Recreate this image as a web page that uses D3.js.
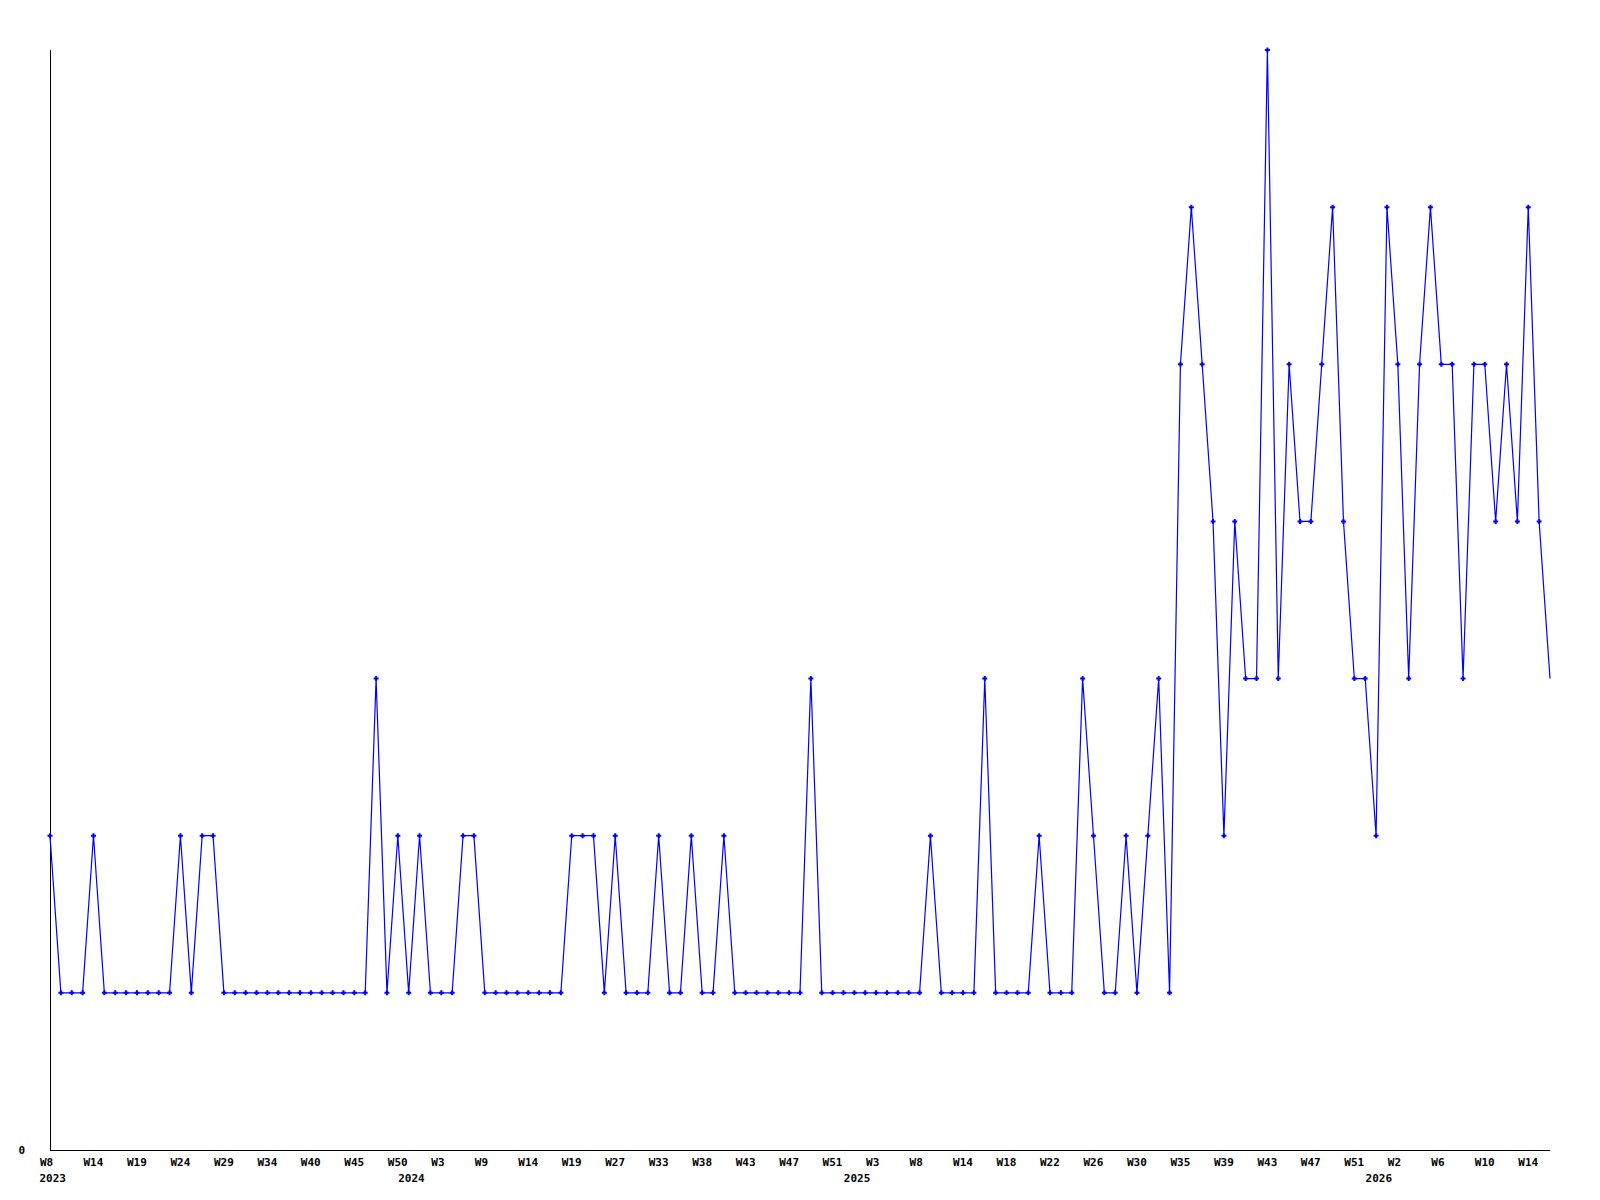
<!DOCTYPE html>
<html>
<head>
<meta charset="utf-8">
<script src="https://cdn.jsdelivr.net/npm/d3@7"></script>
<style>
  html, body { margin: 0; padding: 0; background: #ffffff; }
  svg { display: block; }
  text { font-family: "DejaVu Sans Mono", "Liberation Mono", monospace; font-weight: bold; font-size: 11px; fill: #000; }
</style>
</head>
<body>
<svg id="chart" width="1600" height="1200"></svg>
<script>
// ---- data (one value per plotted week, in order) ----
const values = [
  2,1,1,1,2,1,1,1,1,1,
  1,1,2,1,2,2,1,1,1,1,
  1,1,1,1,1,1,1,1,1,1,
  3,1,2,1,2,1,1,1,2,2,
  1,1,1,1,1,1,1,1,2,2,
  2,1,2,1,1,1,2,1,1,2,
  1,1,2,1,1,1,1,1,1,1,
  3,1,1,1,1,1,1,1,1,1,
  1,2,1,1,1,1,3,1,1,1,
  1,2,1,1,1,3,2,1,1,2,
  1,2,3,1,5,6,5,4,2,4,
  3,3,7,3,5,4,4,5,6,4,
  3,3,2,6,5,3,5,6,5,5,
  3,5,5,4,5,4,6,4,3
];
// week labels shown under every 4th point
const tickLabels = ["W8","W14","W19","W24","W29","W34","W40","W45","W50",
  "W3","W9","W14","W19","W27","W33","W38","W43","W47","W51",
  "W3","W8","W14","W18","W22","W26","W30","W35","W39","W43","W47","W51",
  "W2","W6","W10","W14"];
// year labels and the index of the first point in that year
const yearLabels = ["2023","2024","2025","2026"];
const yearStartIndex = [0, 33, 74, 122];
const yTicks = [0];

// ---- layout ----
const M = { left: 50, right: 1550, top: 50, bottom: 1150 };
const tickEvery = 4;
const yMax = 7;
const labelShift = -10.5;

const svg = d3.select("#chart");
const x = d3.scaleLinear().domain([0, values.length - 1]).range([M.left, M.right]);
const y = d3.scaleLinear().domain([0, yMax]).range([M.bottom, M.top]);

// axes
const xTickVals = tickLabels.map((_, i) => i * tickEvery);
const xAxis = d3.axisBottom(x)
  .tickValues(xTickVals)
  .tickFormat((d, i) => tickLabels[i])
  .tickSize(0)
  .tickPadding(8);
const gx = svg.append("g").attr("transform", `translate(0,${M.bottom})`).call(xAxis);
gx.select(".domain").attr("stroke", "#000").attr("shape-rendering", "crispEdges")
  .attr("d", `M${M.left},0.5H${M.right}`);
gx.selectAll("text").attr("fill", "#000").attr("text-anchor", "start").attr("dx", labelShift);
gx.attr("font-family", null).attr("font-size", null).attr("text-anchor", null);

const yAxis = d3.axisLeft(y).tickValues(yTicks).tickFormat(d3.format("d")).tickSize(0).tickPadding(25);
const gy = svg.append("g").attr("transform", `translate(${M.left},0)`).call(yAxis);
gy.select(".domain").attr("stroke", "#000").attr("shape-rendering", "crispEdges")
  .attr("d", `M0.5,${M.top}V${M.bottom}`);
gy.selectAll("text").attr("fill", "#000").attr("dy", "0.35em");
gy.attr("font-family", null).attr("font-size", null);

// year labels
svg.append("g").selectAll("text").data(yearLabels).join("text")
  .attr("x", (d, i) => x(yearStartIndex[i]) + labelShift)
  .attr("y", M.bottom + 32)
  .attr("text-anchor", "start")
  .text(d => d);

// line
const line = d3.line().x((d, i) => x(i)).y(d => y(d));
svg.append("path")
  .datum(values)
  .attr("fill", "none")
  .attr("stroke", "#0000ff")
  .attr("stroke-width", 1.2)
  .attr("d", line);

// markers (last point has none)
const markerPath = (cx, cy) =>
  `M${cx-2.5},${cy-1}H${cx-1}V${cy-2.5}H${cx+1}V${cy-1}H${cx+2.5}V${cy+1}H${cx+1}V${cy+2.5}H${cx-1}V${cy+1}H${cx-2.5}Z`;
svg.append("g").selectAll("path")
  .data(values.slice(0, values.length - 1))
  .join("path")
  .attr("fill", "#0000ff")
  .attr("d", (d, i) => markerPath(x(i), y(d)));
</script>
</body>
</html>
